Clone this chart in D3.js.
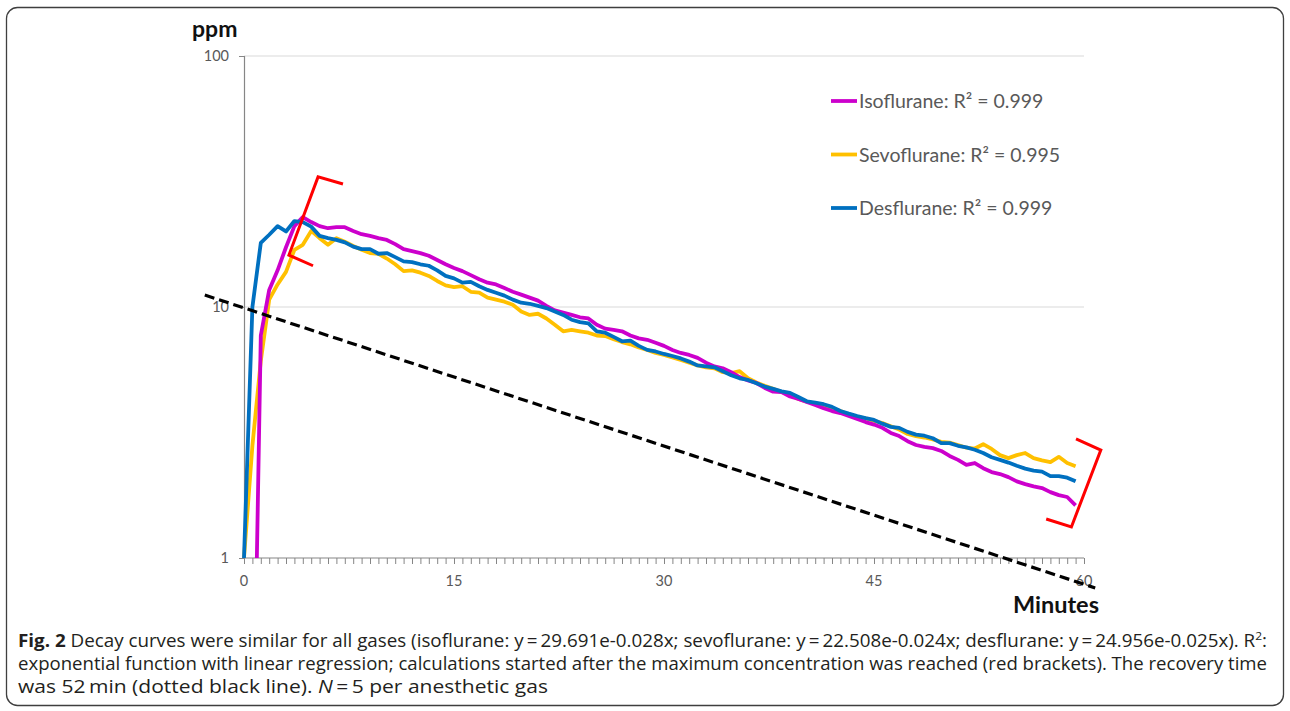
<!DOCTYPE html>
<html>
<head>
<meta charset="utf-8">
<script src="https://cdn.jsdelivr.net/npm/d3@7"></script>
<style>
  body { margin: 0; background: #fff; }
  svg { display: block; }
</style>
</head>
<body>
<div id="chart"></div>
<script>

// samples every 0.6 min (Excel category axis, 100 points)
var step = 0.6;

var isoflurane = [0.1, 0.1, 7.7, 11.7, 14.0, 17.3, 21.0, 22.8, 21.8, 21.0,
  20.6, 20.8, 20.8, 20.1, 19.5, 19.2, 18.8, 18.5, 17.8, 17.0,
  16.7, 16.4, 16.0, 15.4, 14.8, 14.3, 13.9, 13.4, 12.9, 12.5,
  12.3, 11.9, 11.5, 11.2, 10.9, 10.6, 10.1, 9.7, 9.5, 9.3,
  9.1, 9.0, 8.5, 8.2, 8.1, 8.0, 7.7, 7.5, 7.4, 7.2,
  7.0, 6.74, 6.56, 6.44, 6.27, 6.0, 5.8, 5.7, 5.5, 5.26,
  5.1, 4.98, 4.76, 4.6, 4.58, 4.4, 4.3, 4.18, 4.07, 3.95,
  3.85, 3.78, 3.68, 3.58, 3.48, 3.4, 3.3, 3.15, 3.06, 2.92,
  2.82, 2.77, 2.74, 2.67, 2.55, 2.46, 2.35, 2.39, 2.28, 2.2,
  2.16, 2.1, 2.02, 1.97, 1.93, 1.9, 1.83, 1.78, 1.75, 1.62];

var sevoflurane = [1.0, 2.8, 6.1, 10.7, 12.3, 13.8, 16.9, 17.7, 20.1, 18.8,
  17.7, 18.8, 18.2, 17.5, 16.9, 16.4, 16.3, 15.6, 14.8, 13.9,
  14.0, 13.7, 13.3, 12.7, 12.2, 12.0, 12.1, 11.5, 11.4, 10.9,
  10.7, 10.5, 10.2, 9.6, 9.3, 9.4, 9.0, 8.5, 8.0, 8.1,
  8.0, 7.9, 7.7, 7.66, 7.45, 7.25, 7.1, 6.9, 6.74, 6.56,
  6.44, 6.3, 6.15, 6.0, 5.85, 5.75, 5.7, 5.5, 5.45, 5.55,
  5.2, 5.0, 4.85, 4.72, 4.58, 4.5, 4.3, 4.2, 4.12, 4.05,
  3.95, 3.85, 3.72, 3.65, 3.6, 3.52, 3.45, 3.35, 3.25, 3.12,
  3.06, 3.02, 2.97, 2.9, 2.88, 2.82, 2.75, 2.73, 2.84, 2.72,
  2.57, 2.5, 2.57, 2.62, 2.5, 2.45, 2.41, 2.53, 2.39, 2.32];

var desflurane = [1.0, 10.0, 18.0, 19.4, 21.0, 20.0, 22.0, 21.8, 20.9, 19.2,
  18.8, 18.5, 18.1, 17.4, 17.0, 17.0, 16.3, 16.4, 15.8, 15.2,
  15.1, 14.8, 14.6, 14.0, 13.3, 13.0, 12.5, 12.6, 12.1, 11.7,
  11.4, 11.1, 10.7, 10.4, 10.3, 10.1, 9.9, 9.6, 9.3, 8.9,
  8.7, 8.6, 8.0, 7.9, 7.6, 7.3, 7.35, 7.0, 6.75, 6.65,
  6.5, 6.38, 6.24, 6.06, 5.85, 5.8, 5.75, 5.55, 5.35, 5.2,
  5.12, 4.97, 4.82, 4.72, 4.61, 4.55, 4.38, 4.21, 4.16, 4.1,
  4.0, 3.85, 3.76, 3.68, 3.61, 3.55, 3.43, 3.33, 3.3, 3.18,
  3.1, 3.07, 3.0, 2.87, 2.87, 2.8, 2.76, 2.7, 2.62, 2.52,
  2.46, 2.4, 2.33, 2.27, 2.23, 2.21, 2.12, 2.12, 2.09, 2.02];

var seriesNames = ["Isoflurane: R\u00b2 = 0.999", "Sevoflurane: R\u00b2 = 0.995", "Desflurane: R\u00b2 = 0.999"];
var seriesColors = ["#cc00cc", "#ffc000", "#0070c0"];

var yTicks = [1, 10, 100];
var xTickLabels = [0, 15, 30, 45, 60];

// recovery line (dotted black) ends, [minutes, ppm]
var recoveryLine = [[-2.8, 11.16], [60.8, 0.76]];

// red brackets, [minutes, ppm]
var bracketStart = [[7.07, 30.9], [5.29, 33.0], [3.21, 16.1], [4.93, 14.6]];
var bracketEnd = [[57.3, 1.43], [59.1, 1.33], [61.2, 2.69], [59.43, 2.98]];

var captionLines = [
  [{t: "Fig. 2", b: true}, {t: " Decay curves were similar for all gases (isoflurane: y\u2009=\u200929.691e-0.028x; sevoflurane: y\u2009=\u200922.508e-0.024x; desflurane: y\u2009=\u200924.956e-0.025x). R"}, {t: "2", sup: true}, {t: ":"}],
  [{t: "exponential function with linear regression; calculations started after the maximum concentration was reached (red brackets). The recovery time"}],
  [{t: "was 52\u2009min (dotted black line). "}, {t: "N", i: true}, {t: "\u2009=\u20095 per anesthetic gas"}]
];

////////////////////////////////////////////////////////////////////////////////////////////////////

var W = 1290, H = 711;
var svg = d3.select("#chart").append("svg").attr("width", W).attr("height", H);

svg.append("rect")
  .attr("x", 6.5).attr("y", 7.5).attr("width", 1277).attr("height", 698)
  .attr("rx", 11).attr("fill", "none").attr("stroke", "#3f3f3f").attr("stroke-width", 1.3);

var x = d3.scaleLinear().domain([0, 60]).range([244, 1084]);
var y = d3.scaleLog().domain([1, 100]).range([558, 56]);

var axisFont = "Lato, 'Open Sans', sans-serif";

// gridlines
svg.append("g").selectAll("line").data([10, 100]).enter().append("line")
  .attr("x1", x(0)).attr("x2", x(60))
  .attr("y1", function(d){ return y(d); }).attr("y2", function(d){ return y(d); })
  .attr("stroke", "#d9d9d9").attr("stroke-width", 1);

// y axis
var yAxis = d3.axisLeft(y).tickValues(yTicks).tickFormat(d3.format("d")).tickSize(5).tickPadding(10);
var gy = svg.append("g").attr("transform", "translate(" + x(0) + ",0)").call(yAxis);
gy.select(".domain").attr("stroke", "#868686").attr("stroke-width", 1.2);
gy.selectAll(".tick line").attr("stroke", "#868686");
gy.selectAll(".tick text").attr("fill", "#595959").style("font-family", axisFont).style("font-size", "14.5px");

// x axis: minor tick on every sample, labels every 15 min
var minorTicks = d3.range(0, 101).map(function(i){ return i * step; });
var xAxis = d3.axisBottom(x).tickValues(minorTicks).tickSize(6).tickFormat("");
var gx = svg.append("g").attr("transform", "translate(0," + y(1) + ")").call(xAxis);
gx.select(".domain").attr("stroke", "#868686").attr("stroke-width", 1.2).attr("d", "M" + x(0) + ",0H" + x(60));
gx.selectAll(".tick line").attr("stroke", "#868686");

svg.append("g").selectAll("text").data(xTickLabels).enter().append("text")
  .attr("x", function(d){ return x(d); }).attr("y", 586)
  .attr("text-anchor", "middle").attr("fill", "#595959")
  .style("font-family", axisFont).style("font-size", "14.5px")
  .text(function(d){ return d; });

// axis titles
svg.append("text").attr("x", 192).attr("y", 37).text("ppm")
  .attr("fill", "#111").style("font-family", axisFont).style("font-weight", "bold").style("font-size", "23px");
svg.append("text").attr("x", 1099).attr("y", 613).attr("text-anchor", "end").text("Minutes")
  .attr("fill", "#111").style("font-family", axisFont).style("font-weight", "bold").style("font-size", "23.5px");

// series
svg.append("defs").append("clipPath").attr("id", "plotclip")
  .append("rect").attr("x", 240).attr("y", 0).attr("width", 860).attr("height", y(1) - 0);

var line = d3.line()
  .x(function(d, i){ return x(i * step); })
  .y(function(d){ return y(d); });

var seriesData = [isoflurane, sevoflurane, desflurane];
var drawOrder = [1, 0, 2];

var curves = svg.append("g").attr("clip-path", "url(#plotclip)");
drawOrder.forEach(function(k){
  curves.append("path").datum(seriesData[k])
    .attr("d", line)
    .attr("fill", "none")
    .attr("stroke", seriesColors[k])
    .attr("stroke-width", 3.8)
    .attr("stroke-linejoin", "round");
});

// recovery line
var pline = d3.line().x(function(d){ return x(d[0]); }).y(function(d){ return y(d[1]); });
svg.append("path").datum(recoveryLine).attr("d", pline)
  .attr("fill", "none").attr("stroke", "#000").attr("stroke-width", 3.2).attr("stroke-dasharray", "10,5");

// red brackets
[bracketStart, bracketEnd].forEach(function(b){
  svg.append("path").datum(b).attr("d", pline)
    .attr("fill", "none").attr("stroke", "#ff0000").attr("stroke-width", 3);
});

// legend
var legend = svg.append("g");
seriesNames.forEach(function(name, k){
  var ly = 101 + k * 53.5;
  legend.append("line").attr("x1", 831).attr("x2", 857).attr("y1", ly).attr("y2", ly)
    .attr("stroke", seriesColors[k]).attr("stroke-width", 3.8);
  legend.append("text").attr("x", 859).attr("y", ly + 7).text(name)
    .attr("fill", "#595959").style("font-family", axisFont).style("font-size", "19.5px");
});

// caption
var capWidths = [1249, 1249, 530];
var capBase = [647, 670, 693];
captionLines.forEach(function(parts, li){
  var t = svg.append("text").attr("x", 18).attr("y", capBase[li])
    .attr("textLength", capWidths[li]).attr("lengthAdjust", "spacingAndGlyphs")
    .attr("fill", "#231f20").style("font-family", "'Open Sans', sans-serif").style("font-size", "18px");
  parts.forEach(function(p){
    var s = t.append("tspan").text(p.t);
    if (p.b) s.style("font-weight", "bold");
    if (p.i) s.style("font-style", "italic");
    if (p.sup) s.attr("dy", -7).style("font-size", "11.5px");
  });
  // put the baseline back after a superscript
  t.selectAll("tspan").each(function(d, j){
    if (j > 0 && parts[j - 1].sup) d3.select(this).attr("dy", 7);
  });
});

</script>
</body>
</html>
